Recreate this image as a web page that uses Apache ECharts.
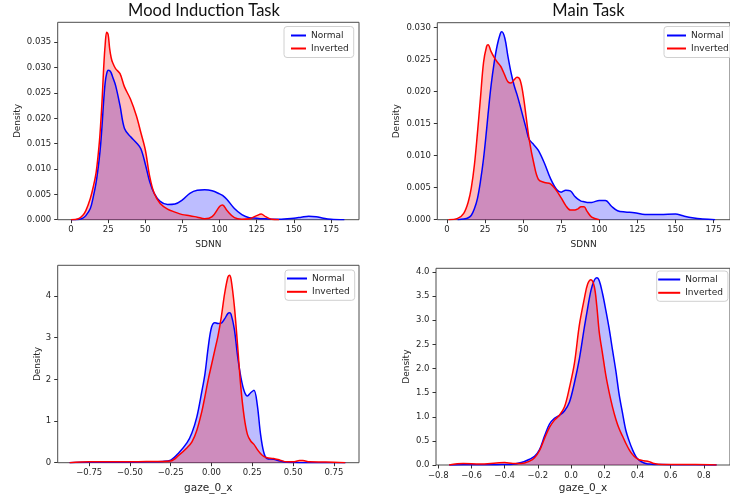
<!DOCTYPE html>
<html>
<head>
<meta charset="utf-8">
<script src="https://cdn.jsdelivr.net/npm/echarts@6/dist/echarts.min.js"></script>
<style>html,body{margin:0;padding:0;background:#fff}#c{width:730px;height:501px}</style>
</head>
<body>
<div id="c"></div>
<script>
// ---------- DATA ----------
const seriesNames = ['Normal', 'Inverted'];
const titles = ['Mood Induction Task', 'Main Task'];

// Panel 1: Mood Induction Task, SDNN
const moodSdnnX = [0,5,8,10,13,15,17,19,20,21,22,23,24,25,26,27,28,30,33,36,40,44,47,50,53,56,60,65,70,75,80,85,90,95,100,102,105,110,115,120,125,128,131,135,140,150,155,160,165,170,175,184];
const moodSdnnNormal = [0,0.00005,0.0003,0.0008,0.0022,0.0045,0.0075,0.012,0.015,0.019,0.0235,0.027,0.0288,0.0295,0.0294,0.029,0.0282,0.0265,0.0225,0.018,0.0164,0.0152,0.014,0.011,0.0075,0.0052,0.0036,0.003,0.0031,0.0039,0.0052,0.0058,0.0059,0.0057,0.0051,0.0048,0.004,0.0022,0.001,0.0004,0.0003,0.0002,0.0002,0.0001,0.0001,0.0003,0.0005,0.0007,0.0006,0.0003,0.0001,0];
const moodSdnnInverted = [0,0.0002,0.0009,0.0018,0.0042,0.0065,0.0095,0.015,0.019,0.024,0.030,0.0345,0.037,0.0365,0.0338,0.032,0.031,0.0298,0.0288,0.0262,0.0238,0.0205,0.0172,0.0138,0.0085,0.0052,0.0032,0.0021,0.0015,0.0010,0.0008,0.0005,0.0002,0.0006,0.0026,0.0029,0.0018,0.0004,0.0001,0.0002,0.0008,0.0011,0.0006,0.0001,0,null,null,null,null,null,null,null];

// Panel 2: Main Task, SDNN
const mainSdnnX = [1,7,11,14,16,18,20,22,24,26,27,29,31,33,35,36,38,40,42,44,46,48,50,52,54,57,60,64,68,72,75,78,81,84,86,88,90,92,95,100,104,108,112,117,123,130,140,150,155,161,168,176];
const mainSdnnNormal = [null,0,0.0001,0.0003,0.0007,0.0017,0.0033,0.006,0.0095,0.014,0.0165,0.021,0.0245,0.0272,0.029,0.0293,0.0283,0.0255,0.023,0.021,0.0195,0.0178,0.016,0.0142,0.0125,0.0117,0.0108,0.0088,0.0064,0.0047,0.0043,0.0046,0.0045,0.0036,0.0032,0.0029,0.0028,0.0027,0.0027,0.003,0.003,0.0021,0.0014,0.0012,0.0011,0.0008,0.0008,0.0009,0.0006,0.0003,0.0001,0];
const mainSdnnInverted = [0,0.0002,0.001,0.0028,0.005,0.0085,0.0135,0.019,0.0245,0.027,0.0273,0.0262,0.0253,0.0246,0.024,0.0236,0.0225,0.0215,0.0213,0.0218,0.0222,0.0218,0.0195,0.016,0.0125,0.0088,0.0063,0.0058,0.0056,0.0045,0.0034,0.0022,0.0015,0.0015,0.0017,0.002,0.002,0.0013,0.0004,0,null,null,null,null,null,null,null,null,null,null,null,null];

// Panel 3: Mood Induction Task, gaze_0_x
const moodGazeX = [-0.87,-0.75,-0.6,-0.5,-0.4,-0.3,-0.25,-0.2,-0.15,-0.12,-0.09,-0.06,-0.04,-0.02,0,0.02,0.04,0.06,0.08,0.1,0.11,0.12,0.14,0.16,0.18,0.2,0.22,0.24,0.26,0.28,0.3,0.32,0.34,0.38,0.42,0.46,0.5,0.54,0.56,0.6,0.7,0.82];
const moodGazeNormal = [0,0.01,0.01,0.01,0.02,0.03,0.06,0.24,0.48,0.72,1.1,1.7,2.14,2.78,3.25,3.36,3.34,3.35,3.45,3.58,3.6,3.56,3.2,2.55,2.05,1.72,1.6,1.68,1.74,1.4,0.7,0.25,0.1,0.08,0.04,0.01,0.005,0,0,0,0,0];
const moodGazeInverted = [0,0.02,0.02,0.02,0.03,0.03,0.04,0.18,0.36,0.5,0.78,1.22,1.6,2.0,2.35,2.7,3.05,3.5,4.05,4.45,4.5,4.4,3.75,2.8,1.8,1.1,0.68,0.52,0.44,0.32,0.22,0.15,0.12,0.1,0.06,0.02,0.02,0.05,0.05,0.02,0.015,0];

// Panel 4: Main Task, gaze_0_x
const mainGazeX = [-0.735,-0.65,-0.55,-0.45,-0.4,-0.35,-0.3,-0.25,-0.22,-0.19,-0.16,-0.13,-0.1,-0.07,-0.04,-0.01,0.02,0.05,0.08,0.1,0.12,0.14,0.155,0.17,0.19,0.21,0.23,0.25,0.27,0.29,0.31,0.33,0.35,0.37,0.39,0.41,0.44,0.47,0.5,0.55,0.65,0.75,0.877];
const mainGazeNormal = [0,0.005,0.005,0.005,0.01,0.015,0.05,0.12,0.18,0.32,0.6,0.85,0.97,1.03,1.12,1.3,1.7,2.2,2.85,3.25,3.62,3.83,3.88,3.82,3.55,3.2,2.82,2.38,1.95,1.46,1.08,0.72,0.5,0.32,0.18,0.1,0.04,0.02,0.01,0.01,0.005,0.005,0];
const mainGazeInverted = [0,0.03,0.02,0.04,0.05,0.03,0.03,0.08,0.15,0.3,0.55,0.78,0.93,1.03,1.2,1.6,2.1,2.9,3.45,3.75,3.84,3.7,3.3,2.75,2.3,1.85,1.5,1.2,0.95,0.75,0.6,0.45,0.32,0.22,0.15,0.11,0.09,0.07,0.03,0.01,0.01,0.01,0];

// Tick labels
const sdnnTicks = [0,25,50,75,100,125,150,175];
const moodSdnnYTicks = [0,0.005,0.010,0.015,0.020,0.025,0.030,0.035];
const mainSdnnYTicks = [0,0.005,0.010,0.015,0.020,0.025,0.030];
const moodGazeXTicks = [-0.75,-0.50,-0.25,0,0.25,0.50,0.75];
const moodGazeYTicks = [0,1,2,3,4];
const mainGazeXTicks = [-0.8,-0.6,-0.4,-0.2,0,0.2,0.4,0.6,0.8];
const mainGazeYTicks = [0,0.5,1.0,1.5,2.0,2.5,3.0,3.5,4.0];

// ---------- CHART ----------
const BLUE = '#0000ff', RED = '#ff0000';
const FONT = 'DejaVu Sans';
const TXT = '#262626';
const fmtNum = d => v => { const s = Math.abs(v).toFixed(d); return (v < -1e-12 ? '\u2212' : '') + s; };

function pairs(xs, ys) {
  return xs.map((x, i) => [x, ys[i]]).filter(p => p[1] != null);
}

const grids = [
  {left: 57.7, top: 22.3, width: 301.3, height: 197.4},
  {left: 437.3, top: 22.7, width: 303, height: 197},
  {left: 57.7, top: 265.3, width: 301.3, height: 197.4},
  {left: 436, top: 268.3, width: 306.3, height: 196.7}
].map(g => Object.assign(g, {show: true, borderColor: '#4d4d4d', borderWidth: 1, backgroundColor: 'transparent'}));

function axisBase(i, min, max, ticks, fmt, name, gap, fs, nfs, margin) {
  return {
    type: 'value', gridIndex: i, min, max, name, nameLocation: 'middle', nameGap: gap,
    nameTextStyle: {fontFamily: FONT, fontSize: nfs, color: TXT},
    axisLine: {show: false, onZero: false}, splitLine: {show: false},
    axisTick: {show: true, inside: false, customValues: ticks, length: 3.5, lineStyle: {color: '#333', width: 1}},
    axisLabel: {customValues: ticks, formatter: fmt, fontFamily: FONT, fontSize: fs, color: TXT, margin}
  };
}
const xAx = (i, min, max, ticks, fmt, name, gap, fs, nfs) => axisBase(i, min, max, ticks, fmt, name, gap, fs, nfs, 6);
const yAx = (i, min, max, ticks, fmt, name, gap, fs, nfs) => axisBase(i, min, max, ticks, fmt, name, gap, fs, nfs, 6.5);

const xAxes = [
  xAx(0, -8.95, 193.85, sdnnTicks, fmtNum(0), 'SDNN', 20, 8.5, 9),
  xAx(1, -6.34, 185.8, sdnnTicks, fmtNum(0), 'SDNN', 20, 8.5, 9),
  xAx(2, -0.943, 0.904, moodGazeXTicks, fmtNum(2), 'gaze_0_x', 20, 8.5, 10.5),
  xAx(3, -0.814, 0.958, mainGazeXTicks, fmtNum(1), 'gaze_0_x', 18, 8.5, 10.5)
];
const yAxes = [
  yAx(0, 0, 0.03894, moodSdnnYTicks, fmtNum(3), 'Density', 36, 8.5, 9),
  yAx(1, 0, 0.03072, mainSdnnYTicks, fmtNum(3), 'Density', 36, 8.5, 9),
  yAx(2, 0, 4.737, moodGazeYTicks, fmtNum(0), 'Density', 16, 8.5, 9),
  yAx(3, 0, 4.077, mainGazeYTicks, fmtNum(1), 'Density', 25, 8.5, 9)
];

const panels = [
  [moodSdnnX, moodSdnnNormal, moodSdnnInverted],
  [mainSdnnX, mainSdnnNormal, mainSdnnInverted],
  [moodGazeX, moodGazeNormal, moodGazeInverted],
  [mainGazeX, mainGazeNormal, mainGazeInverted]
];
const series = [];
panels.forEach((p, i) => {
  [[seriesNames[0], p[1], BLUE], [seriesNames[1], p[2], RED]].forEach(([name, ys, col]) => {
    series.push({
      type: 'line', name, xAxisIndex: i, yAxisIndex: i,
      data: pairs(p[0], ys), smooth: 0.35, showSymbol: false, symbol: 'none',
      color: col, itemStyle: {color: col},
      lineStyle: {color: col, width: 1.5},
      areaStyle: {color: col, opacity: 0.26},
      animation: false
    });
  });
});

function leg(left, top, pad, iw, gap) {
  return {
    data: seriesNames, orient: 'vertical', left, top, padding: pad,
    itemWidth: iw, itemHeight: 2, itemGap: gap, icon: 'rect',
    textStyle: {fontFamily: FONT, fontSize: 9, color: TXT, lineHeight: 11},
    borderColor: '#d0d0d0', borderWidth: 1, borderRadius: 3, backgroundColor: 'rgba(255,255,255,0.8)',
    selectedMode: false
  };
}
const legends = [
  leg(284, 26.5, [3.5, 5, 3.5, 7], 15, 2),
  leg(664, 26.5, [3.5, 5, 3.5, 3], 19, 2),
  leg(285, 270, [3, 5, 3, 2], 20, 2.3),
  leg(656.7, 271, [3, 5, 3, 1.5], 22, 2.3)
];

const chart = echarts.init(document.getElementById('c'), null, {renderer: 'canvas'});
chart.setOption({
  animation: false,
  backgroundColor: '#fff',
  grid: grids, xAxis: xAxes, yAxis: yAxes, series, legend: legends,
  graphic: [
    {type: 'text', x: 204, y: 11, style: {text: titles[0], font: '16.5px Lato', fill: '#111', textAlign: 'center', textVerticalAlign: 'middle'}},
    {type: 'text', x: 588.5, y: 11, style: {text: titles[1], font: '16.5px Lato', fill: '#111', textAlign: 'center', textVerticalAlign: 'middle'}}
  ]
});
</script>
</body>
</html>
